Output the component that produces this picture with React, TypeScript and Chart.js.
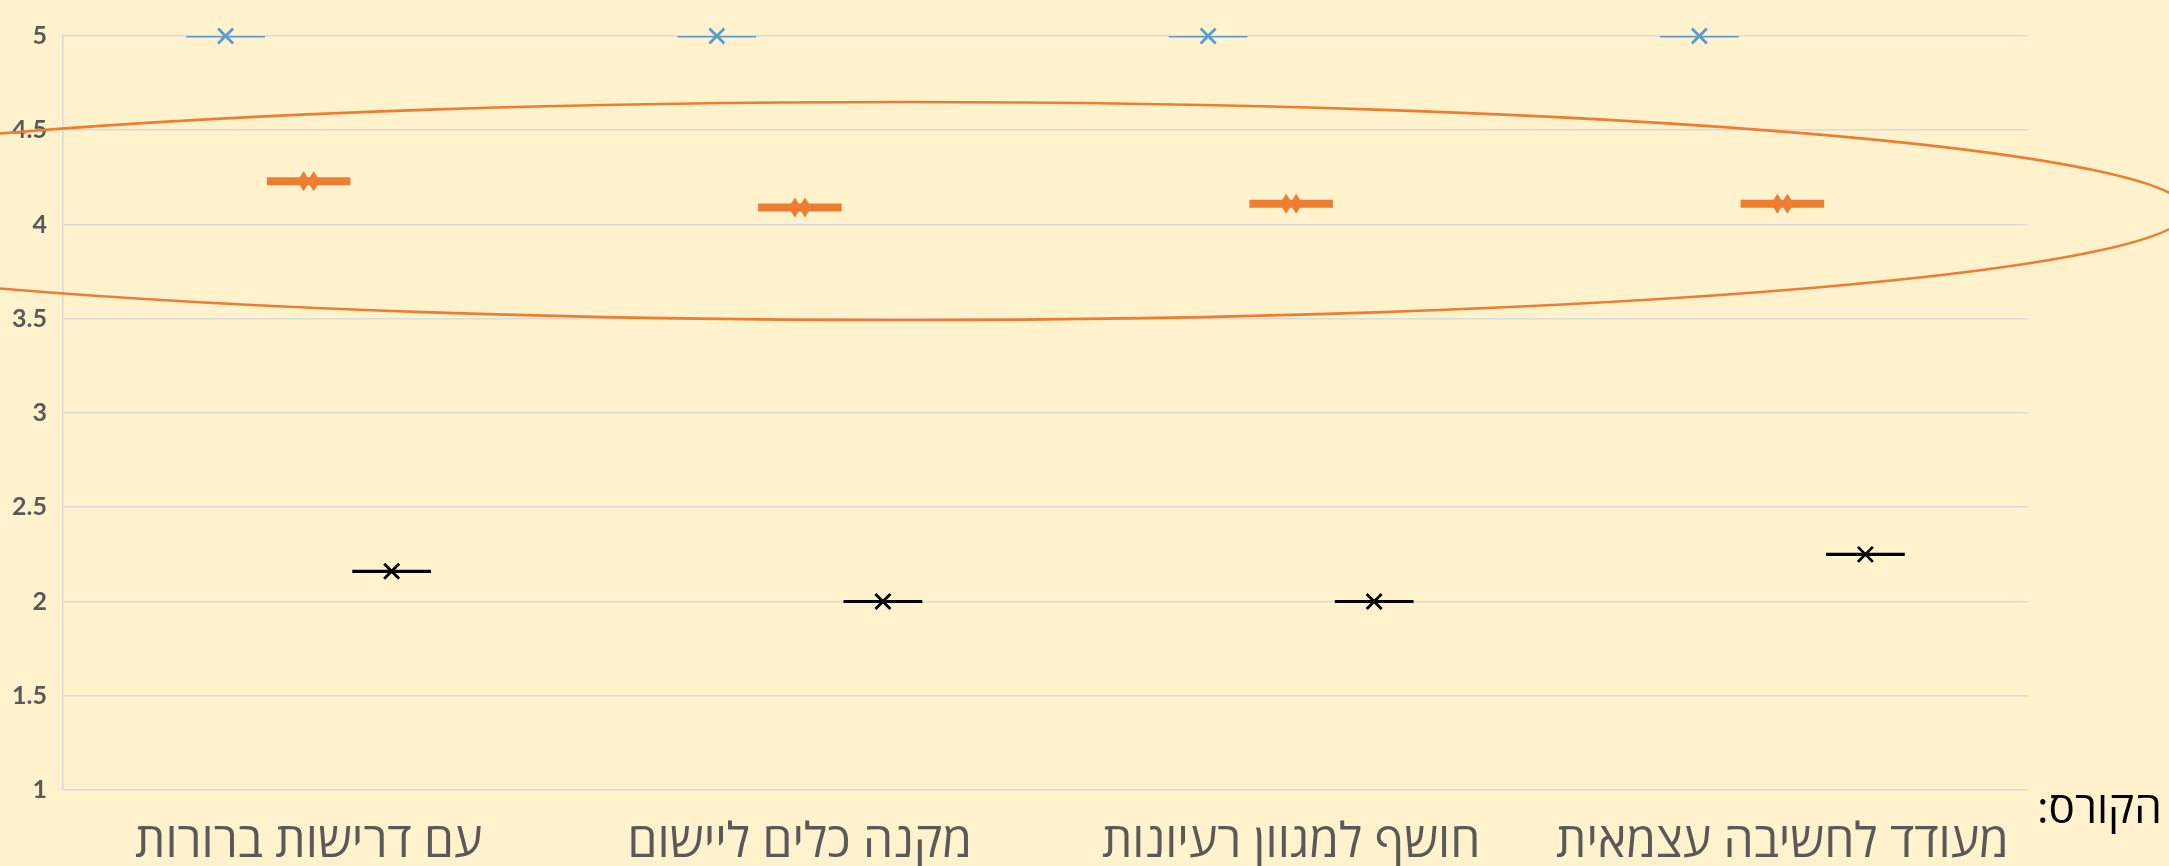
import React, { useEffect, useRef } from "react";
import { Chart, registerables } from "chart.js";

Chart.register(...registerables);

const categories = [
  "עם דרישות ברורות",
  "מקנה כלים ליישום",
  "חושף למגוון רעיונות",
  "מעודד לחשיבה עצמאית",
];
const maxValues = [5, 5, 5, 5];
const meanValues = [4.23, 4.09, 4.11, 4.11];
const minValues = [2.16, 2, 2, 2.25];
const yMin = 1;
const yMax = 5;
const yStep = 0.5;
const sideNote = "הקורס:";

const W = 2169;
const H = 866;
const BG = "#FFF2CC";
const BLUE = "#5B9BD5";
const ORANGE = "#ED7D31";
const GRID = "#D9DADB";
const HEB_FONT = "'Open Sans', 'Liberation Sans', 'DejaVu Sans', sans-serif";

const bgPlugin = {
  id: "bg",
  beforeDraw(chart: any) {
    const { ctx, width, height } = chart;
    ctx.save();
    ctx.fillStyle = BG;
    ctx.fillRect(0, 0, width, height);
    ctx.restore();
  },
};

const markerPlugin = {
  id: "markers",
  afterDatasetsDraw(chart: any) {
    const ctx = chart.ctx;
    chart.data.datasets.forEach((ds: any, i: number) => {
      const meta = chart.getDatasetMeta(i);
      meta.data.forEach((el: any) => {
        const x = el.x;
        const y = (el.y + el.base) / 2;
        ctx.save();
        if (ds.marker === "cross") {
          const r = 7.5;
          ctx.strokeStyle = ds.backgroundColor;
          ctx.lineWidth = 2.8;
          ctx.lineCap = "butt";
          ctx.beginPath();
          ctx.moveTo(x - r, y - r);
          ctx.lineTo(x + r, y + r);
          ctx.moveTo(x + r, y - r);
          ctx.lineTo(x - r, y + r);
          ctx.stroke();
        } else if (ds.marker === "diamond") {
          ctx.fillStyle = ds.backgroundColor;
          [-5, 5].forEach((dx) => {
            const cx = x + dx;
            ctx.beginPath();
            ctx.moveTo(cx, y - 10);
            ctx.lineTo(cx + 6.3, y);
            ctx.lineTo(cx, y + 10);
            ctx.lineTo(cx - 6.3, y);
            ctx.closePath();
            ctx.fill();
          });
        }
        ctx.restore();
      });
    });
  },
};

const overlayPlugin = {
  id: "overlay",
  afterDraw(chart: any) {
    const { ctx, width, height } = chart;
    ctx.save();
    ctx.strokeStyle = ORANGE;
    ctx.lineWidth = 2.6;
    ctx.beginPath();
    ctx.ellipse(width * 0.4163, height * 0.2436, width * 0.592, height * 0.1259, 0, 0, Math.PI * 2);
    ctx.stroke();
    ctx.fillStyle = "#000000";
    ctx.font = "44px " + HEB_FONT;
    ctx.direction = "rtl";
    ctx.textAlign = "left";
    ctx.textBaseline = "alphabetic";
    ctx.fillText(sideNote, 2037, 823);
    ctx.restore();
  },
};

export default function App() {
  const ref = useRef<HTMLCanvasElement | null>(null);

  useEffect(() => {
    if (!ref.current) return;
    const chart = new Chart(ref.current, {
      type: "bar",
      data: {
        labels: categories,
        datasets: [
          {
            label: "max",
            data: maxValues.map((v) => [v, v]),
            backgroundColor: BLUE,
            borderWidth: 0,
            inflateAmount: 1.6,
            marker: "cross",
          } as any,
          {
            label: "mean",
            data: meanValues.map((v) => [v, v]),
            backgroundColor: ORANGE,
            borderWidth: 0,
            inflateAmount: 4,
            marker: "diamond",
          } as any,
          {
            label: "min",
            data: minValues.map((v) => [v, v]),
            backgroundColor: "#000000",
            borderWidth: 0,
            inflateAmount: 1.6,
            marker: "cross",
          } as any,
        ],
      },
      options: {
        responsive: false,
        animation: false,
        devicePixelRatio: 1,
        categoryPercentage: 0.507,
        barPercentage: 0.91,
        layout: { padding: { top: 36, right: 141, left: 0, bottom: 0 } },
        plugins: {
          legend: { display: false },
          tooltip: { enabled: false },
        },
        scales: {
          x: {
            grid: { display: false },
            border: { display: false },
            ticks: {
              autoSkip: false,
              maxRotation: 0,
              minRotation: 0,
              padding: 17,
              color: "#595959",
              font: { family: HEB_FONT, size: 48, weight: "normal" },
            },
            afterFit(scale: any) {
              scale.height = 76;
            },
          },
          y: {
            min: yMin,
            max: yMax,
            ticks: {
              stepSize: yStep,
              padding: 16,
              color: "#595959",
              font: { family: "Lato, 'Open Sans', sans-serif", size: 25, weight: "bold" },
              callback: (v: any) => String(Number(v)),
            },
            grid: { color: GRID, lineWidth: 1.6, drawTicks: false },
            border: { display: true, color: GRID, width: 1.6 },
            afterFit(scale: any) {
              scale.width = 63;
            },
          },
        },
      } as any,
      plugins: [bgPlugin, markerPlugin, overlayPlugin],
    });
    return () => chart.destroy();
  }, []);

  return (
    <div style={{ position: "fixed", left: 0, top: 0, width: W, height: H, background: BG }}>
      <canvas ref={ref} width={W} height={H} style={{ display: "block", width: W, height: H }} />
    </div>
  );
}
